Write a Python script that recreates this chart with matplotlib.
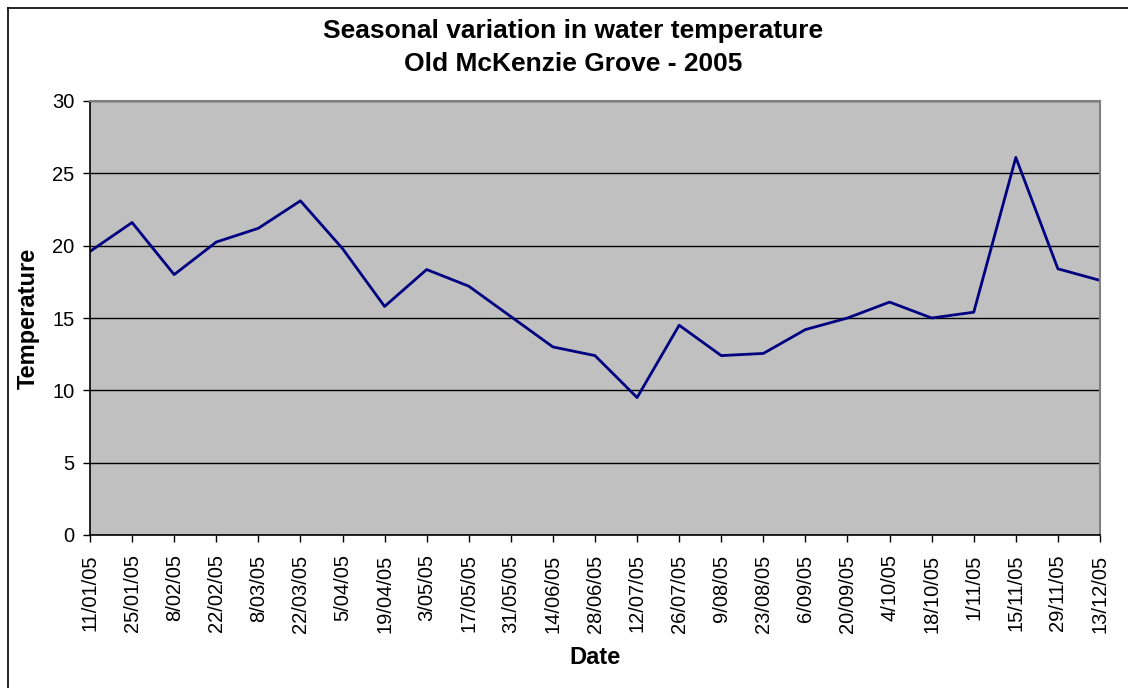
import matplotlib.pyplot as plt
from matplotlib.lines import Line2D

plt.rcParams['font.family'] = ['Liberation Sans', 'DejaVu Sans']

dates = ['11/01/05', '25/01/05', '8/02/05', '22/02/05', '8/03/05', '22/03/05',
         '5/04/05', '19/04/05', '3/05/05', '17/05/05', '31/05/05', '14/06/05',
         '28/06/05', '12/07/05', '26/07/05', '9/08/05', '23/08/05', '6/09/05',
         '20/09/05', '4/10/05', '18/10/05', '1/11/05', '15/11/05', '29/11/05',
         '13/12/05']
temperature = [19.6, 21.6, 18.0, 20.25, 21.2, 23.1, 19.8, 15.8, 18.35, 17.2,
               15.1, 13.0, 12.4, 9.5, 14.5, 12.4, 12.55, 14.2, 15.0, 16.1,
               15.0, 15.4, 26.1, 18.4, 17.6]

W, H = 1128, 688
fig = plt.figure(figsize=(W / 100, H / 100), dpi=100)
ax = fig.add_axes([90 / W, 1 - 535 / H, 1010 / W, 434 / H])

# chart border: only the left and top edges show in the reference
fig.lines.append(Line2D([7.5 / W, 7.5 / W], [0, 1 - 8 / H], transform=fig.transFigure,
                        color='black', linewidth=1.2))
fig.lines.append(Line2D([7.5 / W, 1], [1 - 8 / H, 1 - 8 / H], transform=fig.transFigure,
                        color='black', linewidth=1.2))

x = list(range(len(dates)))
ax.plot(x, temperature, color='#000080', linewidth=2)

ax.set_facecolor('#C0C0C0')
ax.set_xlim(0, len(dates) - 1)
ax.set_ylim(0, 30)
ax.set_yticks(range(0, 31, 5))
ax.set_xticks(x)
ax.set_xticklabels(dates, rotation=90)
ax.yaxis.grid(True, color='black', linewidth=1)
ax.set_axisbelow(True)
ax.tick_params(axis='both', direction='out', length=5, width=1, labelsize=14.5,
               colors='black')
ax.tick_params(axis='x', pad=9)
ax.tick_params(axis='y', pad=6)

for side in ['top', 'right']:
    ax.spines[side].set_color('#808080')
    ax.spines[side].set_linewidth(1.5)
for side in ['left', 'bottom']:
    ax.spines[side].set_color('black')
    ax.spines[side].set_linewidth(1.2)

ax.set_xlabel('Date', fontsize=17, fontweight='bold')
ax.set_ylabel('Temperature', fontsize=17, fontweight='bold')
ax.xaxis.set_label_coords(0.5, (535 - 658) / 434)
ax.yaxis.set_label_coords((28 - 90) / 1010, 0.5)
ax.xaxis.label.set_va('center')
ax.yaxis.label.set_va('center')

fig.text(573 / W, 1 - 31 / H, 'Seasonal variation in water temperature',
         ha='center', va='center', fontsize=19, fontweight='bold')
fig.text(573 / W, 1 - 64 / H, 'Old McKenzie Grove - 2005',
         ha='center', va='center', fontsize=19, fontweight='bold')

fig.savefig('out.png', dpi=100)
